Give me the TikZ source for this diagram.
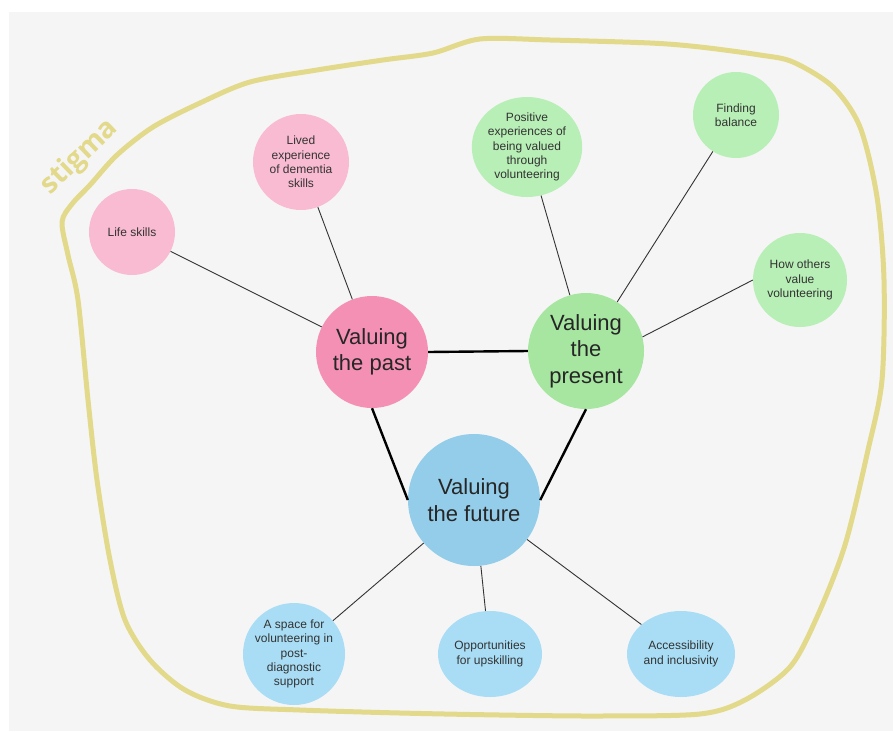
\documentclass[tikz,border=0pt]{standalone}
\usepackage{fontspec}
\setmainfont{Liberation Sans}
\newfontfamily\stigmafont{Open Sans}
\usepackage{xcolor}
\usetikzlibrary{shapes.geometric,calc}

\definecolor{pastbig}{HTML}{F490B3}
\definecolor{pastleaf}{HTML}{F9BBD1}
\definecolor{presbig}{HTML}{A6E6A0}
\definecolor{presleaf}{HTML}{B8EFB6}
\definecolor{futbig}{HTML}{93CDE9}
\definecolor{futleaf}{HTML}{A8DDF5}
\definecolor{stigmaline}{HTML}{E3D98A}
\definecolor{paper}{HTML}{F5F5F5}

\begin{document}
\begin{tikzpicture}[x=1pt, y=-1pt,
  hub/.style={circle, inner sep=0pt, text=black!85, align=center,
              font=\fontsize{22}{26.5}\selectfont},
  leaf/.style={circle, inner sep=0pt, text=black!80, align=center,
               font=\fontsize{12}{14.4}\selectfont},
  oval/.style={leaf, ellipse},
  spoke/.style={draw=black!80, line width=0.9pt},
  bond/.style={draw=black, line width=2.4pt},
  fence/.style={draw=stigmaline, line width=5pt, line join=round}
]

% canvas and margins
\useasboundingbox (0,0) rectangle (893,731);
\fill[white] (0,0) rectangle (893,731);
\fill[paper] (9,12) rectangle (893,731);

% stigma boundary
\draw[fence] plot[smooth cycle, tension=0.5] coordinates {
  (62,222) (72,204) (90,185) (117,155) (153,127) (200,103) (250,82)
  (317,70) (383,60) (433,53) (480,39) (550,40) (650,43) (700,47)
  (760,55) (793,62) (833,87) (860,127) (877,197) (884,280) (882,380)
  (868,450) (845,545) (817,617) (790,667) (745,700) (700,714) (600,716)
  (500,715) (400,713) (300,710) (230,706) (185,690) (150,660) (125,620)
  (110,560) (97,480) (88,400) (78,300) (68,255)};
\node[text=stigmaline, rotate=44, font=\stigmafont\bfseries\fontsize{28}{32}\selectfont]
  (stigma) at (80,157) {stigma};

% main themes
\node[hub, fill=pastbig, minimum size=112] (past) at (372,352) {Valuing\\the past};
\node[hub, fill=presbig, minimum size=116] (present) at (586,351) {Valuing\\the\\present};
\node[hub, fill=futbig, minimum size=132] (future) at (474,500) {Valuing\\the future};

% past
\node[leaf, fill=pastleaf, minimum size=86] (life) at (132,232) {Life skills};
\node[leaf, fill=pastleaf, minimum size=96] (lived) at (301,162) {Lived\\experience\\of dementia\\skills};

% present
\node[oval, fill=presleaf, minimum width=110, minimum height=100] (positive) at (527,147)
  {Positive\\experiences of\\being valued\\through\\volunteering};
\node[leaf, fill=presleaf, minimum size=86] (balance) at (736,115) {Finding\\balance};
\node[leaf, fill=presleaf, minimum size=94] (others) at (800,280) {How others\\value\\volunteering};

% future
\node[leaf, fill=futleaf, minimum size=102, inner sep=-3pt] (space) at (294,654)
  {A space for\\volunteering in\\post-\\diagnostic\\support};
\node[oval, fill=futleaf, minimum width=104, minimum height=86] (upskill) at (490,654)
  {Opportunities\\for upskilling};
\node[oval, fill=futleaf, minimum width=108, minimum height=86] (access) at (681,654)
  {Accessibility\\and inclusivity};

% links
\draw[bond] (past.east) -- (present.west);
\draw[bond] (past.south) -- (future.west);
\draw[bond] (present.south) -- (future.east);

\draw[spoke] (life) -- (past);
\draw[spoke] (lived) -- (past);
\draw[spoke] (positive) -- (present);
\draw[spoke] (balance) -- (present);
\draw[spoke] (others.west) -- (present.14);
\draw[spoke] (future) -- (space);
\draw[spoke] (future) -- (upskill);
\draw[spoke] (future) -- (access);

\end{tikzpicture}
\end{document}
